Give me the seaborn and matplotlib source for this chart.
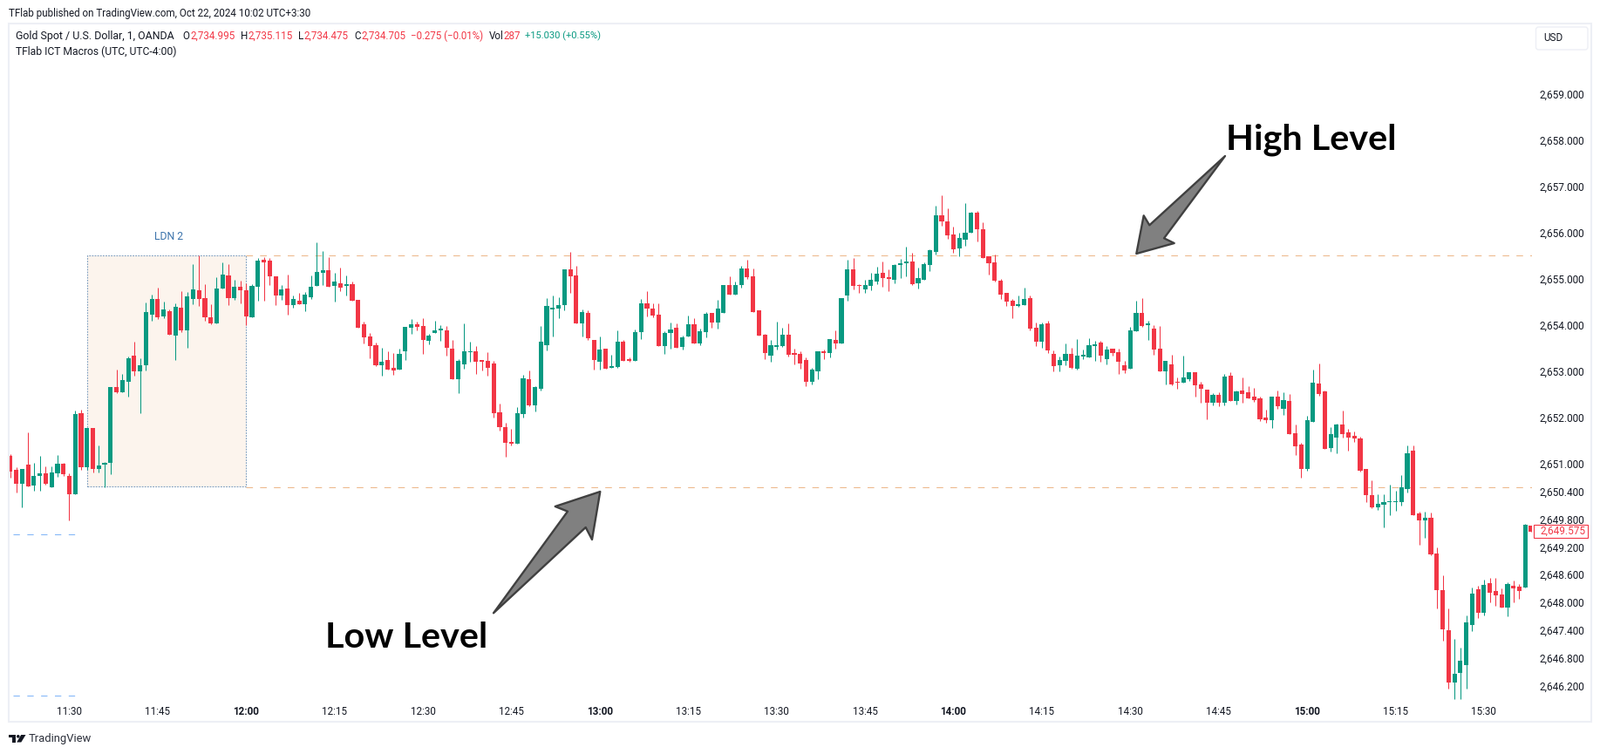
import numpy as np
import pandas as pd
import seaborn as sns
import matplotlib
matplotlib.use("Agg")
import matplotlib.pyplot as plt
from matplotlib.patches import Polygon, Rectangle, FancyBboxPatch, Circle
from matplotlib.ticker import FuncFormatter
from matplotlib.transforms import Affine2D

# ---------- data ----------
first_minute = 680   # 11:20, one candle per minute
opens = [
2651.17,2650.87,2650.57,2650.98,2650.53,2650.74,2650.79,2650.49,2650.79,2651.00,
2650.74,2650.34,2652.09,2650.92,2651.77,2650.89,2650.98,2651.02,2652.66,2652.55,
2652.77,2653.34,2653.00,2653.13,2654.22,2654.56,2654.19,2654.30,2653.77,2654.38,
2653.89,2654.56,2654.75,2654.58,2654.17,2654.04,2654.79,2655.07,2654.58,2654.83,
2654.75,2654.17,2654.83,2655.41,2655.39,2655.05,2654.64,2654.79,2654.43,2654.53,
2654.45,2654.60,2654.85,2655.13,2655.19,2654.85,2654.90,2654.85,2654.88,2654.54,
2654.02,2653.75,2653.56,2653.13,2653.24,2653.07,2653.04,2653.43,2653.94,2654.02,
2653.98,2653.66,2653.83,2653.89,2653.89,2653.49,2652.83,2653.15,2653.41,2653.43,
2653.23,2653.23,2653.17,2652.11,2651.79,2651.47,2651.43,2652.08,2652.83,2652.26,
2652.62,2653.56,2654.34,2654.36,2654.43,2655.20,2655.07,2654.04,2654.26,2653.68,
2653.21,2653.49,2653.07,2653.09,2653.64,2653.26,2653.23,2653.85,2654.47,2654.36,
2654.22,2653.55,2653.83,2653.94,2653.53,2653.75,2654.02,2653.60,2653.85,2654.26,
2654.05,2654.26,2654.87,2654.66,2654.87,2655.22,2655.05,2654.32,2653.79,2653.34,
2653.53,2653.55,2653.79,2653.40,2653.38,2653.24,2652.77,2653.00,2653.43,2653.39,
2653.67,2653.60,2654.64,2655.20,2654.86,2654.77,2654.84,2654.94,2655.13,2655.03,
2654.98,2655.30,2655.34,2655.37,2654.90,2654.98,2655.30,2655.58,2656.37,2656.24,
2655.96,2655.66,2655.84,2656.00,2656.43,2656.07,2655.49,2655.35,2654.96,2654.69,
2654.52,2654.41,2654.43,2654.58,2653.94,2653.64,2654.03,2653.37,2653.13,2653.22,
2653.37,2653.05,2653.32,2653.30,2653.55,2653.62,2653.26,2653.49,2653.41,2653.13,
2653.05,2653.87,2654.26,2654.00,2653.92,2653.49,2653.00,2653.15,2652.77,2652.75,
2652.83,2652.98,2652.71,2652.60,2652.32,2652.49,2652.32,2652.90,2652.36,2652.58,
2652.55,2652.45,2652.41,2652.00,2651.94,2652.45,2652.19,2652.36,2651.66,2651.41,
2650.89,2651.90,2652.73,2652.56,2651.34,2651.56,2651.85,2651.68,2651.60,2651.55,
2650.89,2650.32,2650.06,2650.11,2650.17,2650.16,2650.17,2650.46,2651.28,2649.93,
2649.78,2649.83,2649.06,2648.27,2647.40,2646.27,2646.47,2646.64,2647.51,2648.29,
2647.78,2648.42,2648.25,2648.17,2647.89,2648.36,2648.34,2648.32,2649.66]
closes = [
2650.83,2650.57,2650.89,2650.51,2650.74,2650.79,2650.57,2650.81,2651.00,2650.77,
2650.34,2652.08,2650.92,2651.77,2650.89,2650.96,2651.02,2652.66,2652.55,2652.81,
2653.28,2653.00,2653.13,2654.28,2654.56,2654.17,2654.34,2653.79,2654.39,2653.89,
2654.62,2654.77,2654.56,2654.17,2654.04,2654.79,2655.09,2654.58,2654.83,2654.75,
2654.19,2654.85,2655.39,2655.36,2655.05,2654.64,2654.77,2654.43,2654.56,2654.45,
2654.66,2654.83,2655.15,2655.19,2654.83,2654.94,2654.81,2654.88,2654.53,2653.94,
2653.73,2653.55,2653.13,2653.21,2653.04,2653.02,2653.38,2653.96,2654.02,2653.96,
2653.68,2653.77,2653.89,2653.90,2653.51,2652.83,2653.23,2653.43,2653.43,2653.21,
2653.21,2653.07,2652.09,2651.79,2651.45,2651.43,2652.09,2652.85,2652.26,2652.66,
2653.64,2654.41,2654.36,2654.43,2655.20,2655.05,2654.04,2654.28,2653.72,2653.24,
2653.47,2653.06,2653.11,2653.64,2653.23,2653.23,2653.85,2654.47,2654.36,2654.21,
2653.55,2653.83,2653.90,2653.51,2653.73,2654.02,2653.60,2653.87,2654.24,2654.05,
2654.36,2654.87,2654.66,2654.87,2655.22,2655.03,2654.28,2653.77,2653.40,2653.56,
2653.55,2653.79,2653.36,2653.36,2653.17,2652.77,2653.03,2653.43,2653.39,2653.69,
2653.60,2654.58,2655.20,2654.84,2654.84,2654.86,2654.98,2655.11,2655.02,2655.00,
2655.30,2655.34,2655.37,2654.88,2655.02,2655.32,2655.62,2656.37,2656.24,2655.94,
2655.64,2655.88,2656.00,2656.43,2656.07,2655.45,2655.34,2654.96,2654.66,2654.51,
2654.41,2654.45,2654.56,2653.92,2653.64,2654.02,2653.45,2653.11,2653.24,2653.37,
2653.07,2653.34,2653.34,2653.56,2653.56,2653.34,2653.47,2653.39,2653.21,2653.02,
2653.88,2654.26,2653.98,2654.02,2653.47,2653.00,2653.22,2652.71,2652.75,2652.87,
2652.98,2652.70,2652.62,2652.32,2652.49,2652.32,2652.88,2652.36,2652.56,2652.51,
2652.41,2652.38,2651.96,2651.94,2652.45,2652.24,2652.38,2651.64,2651.38,2650.89,
2651.94,2652.75,2652.51,2651.32,2651.64,2651.85,2651.64,2651.56,2651.55,2650.85,
2650.32,2650.06,2650.13,2650.17,2650.19,2650.18,2650.49,2651.23,2649.89,2649.78,
2649.83,2649.04,2648.27,2647.42,2646.27,2646.45,2646.74,2647.57,2648.19,2647.78,
2648.38,2648.21,2648.15,2647.89,2648.40,2648.30,2648.25,2649.68,2649.53]
highs = [
2651.21,2650.92,2650.89,2651.68,2651.02,2651.17,2650.95,2650.95,2651.19,2651.02,
2650.79,2652.15,2652.17,2651.77,2651.77,2651.40,2651.04,2652.66,2653.04,2652.94,
2653.32,2653.64,2653.28,2654.49,2654.66,2654.81,2654.51,2654.34,2654.47,2654.73,
2654.71,2655.32,2655.50,2654.88,2654.45,2655.03,2655.36,2655.32,2654.98,2654.96,
2654.90,2654.88,2655.45,2655.47,2655.45,2655.05,2654.87,2655.09,2654.64,2654.70,
2654.71,2655.07,2655.79,2655.60,2655.47,2655.13,2655.24,2655.07,2654.94,2654.54,
2654.07,2653.83,2653.62,2653.51,2653.43,2653.40,2653.49,2653.96,2654.13,2654.07,
2654.15,2653.81,2654.09,2654.00,2653.98,2653.68,2653.26,2654.04,2653.64,2653.55,
2653.24,2653.41,2653.23,2652.30,2651.89,2651.76,2652.23,2652.92,2653.02,2652.68,
2653.98,2654.58,2654.64,2654.60,2655.20,2655.58,2655.28,2654.34,2654.32,2653.68,
2653.75,2653.49,2653.36,2653.89,2653.68,2653.30,2653.90,2654.56,2654.73,2654.47,
2654.47,2653.87,2654.05,2654.04,2653.77,2654.21,2654.15,2653.92,2654.28,2654.26,
2654.54,2654.87,2655.05,2654.94,2655.28,2655.41,2655.22,2654.32,2653.81,2653.68,
2654.07,2653.94,2654.04,2653.49,2653.43,2653.30,2653.07,2653.43,2653.47,2653.69,
2653.88,2654.58,2655.41,2655.45,2654.88,2654.98,2655.13,2655.26,2655.37,2655.20,
2655.32,2655.43,2655.69,2655.56,2655.24,2655.35,2655.64,2656.58,2656.81,2656.52,
2656.13,2656.00,2656.64,2656.45,2656.47,2656.22,2655.49,2655.52,2655.00,2654.69,
2654.56,2654.64,2654.81,2654.64,2654.05,2654.05,2654.09,2653.45,2653.32,2653.60,
2653.51,2653.69,2653.47,2653.71,2653.66,2653.66,2653.55,2653.49,2653.49,2653.22,
2653.96,2654.52,2654.58,2654.09,2654.00,2653.98,2653.22,2653.36,2652.87,2653.34,
2652.98,2652.98,2652.77,2652.60,2652.53,2652.55,2652.94,2652.98,2652.58,2652.87,
2652.68,2652.64,2652.45,2652.17,2652.45,2652.58,2652.55,2652.51,2651.85,2651.45,
2652.04,2653.03,2653.17,2652.58,2651.79,2651.87,2652.15,2651.75,2651.70,2651.58,
2650.89,2650.64,2650.34,2650.34,2650.55,2650.42,2650.76,2651.40,2651.40,2649.96,
2649.96,2649.95,2649.19,2648.59,2647.87,2647.21,2647.02,2647.72,2648.32,2648.36,
2648.49,2648.53,2648.53,2648.30,2648.43,2648.47,2648.40,2649.70,2649.66]
lows = [
2650.70,2650.38,2650.06,2650.51,2650.42,2650.42,2650.55,2650.49,2650.72,2650.74,
2649.78,2650.34,2650.87,2650.86,2650.81,2650.81,2650.49,2650.77,2652.53,2652.55,
2652.45,2652.90,2652.09,2653.02,2654.09,2654.13,2654.15,2653.79,2653.24,2653.85,
2653.51,2654.45,2654.41,2654.09,2654.02,2654.04,2654.79,2654.43,2654.54,2654.47,
2653.99,2654.17,2654.53,2654.53,2654.87,2654.43,2654.54,2654.22,2654.38,2654.45,
2654.30,2654.56,2654.85,2654.87,2654.83,2654.51,2654.73,2654.64,2654.53,2653.94,
2653.60,2653.28,2653.11,2652.90,2653.04,2652.92,2653.04,2653.24,2653.81,2653.89,
2653.38,2653.58,2653.83,2653.66,2653.34,2652.83,2652.53,2653.06,2653.21,2652.94,
2653.02,2652.90,2652.00,2651.72,2651.15,2651.40,2651.43,2652.00,2652.25,2652.13,
2652.58,2653.45,2653.75,2654.15,2654.32,2654.70,2654.04,2653.75,2653.68,2653.04,
2653.04,2653.06,2653.07,2653.07,2653.23,2653.21,2653.23,2653.70,2654.19,2654.17,
2653.55,2653.38,2653.49,2653.51,2653.47,2653.75,2653.60,2653.56,2653.73,2653.94,
2653.92,2654.26,2654.66,2654.66,2654.81,2655.00,2654.28,2653.77,2653.26,2653.21,
2653.47,2653.53,2653.32,2653.15,2653.06,2652.68,2652.71,2652.83,2653.26,2653.30,
2653.49,2653.60,2654.52,2654.77,2654.69,2654.69,2654.75,2654.88,2654.83,2654.73,
2654.90,2655.02,2655.05,2654.86,2654.79,2654.98,2655.17,2655.52,2656.15,2655.86,
2655.56,2655.49,2655.71,2656.00,2655.81,2655.45,2655.09,2654.94,2654.56,2654.41,
2654.15,2654.39,2654.43,2653.88,2653.55,2653.51,2653.39,2653.00,2653.00,2653.13,
2653.05,2653.03,2653.26,2653.30,2653.22,2653.21,2653.15,2653.34,2652.94,2652.96,
2653.05,2653.87,2653.96,2653.67,2653.36,2653.00,2652.71,2652.70,2652.62,2652.75,
2652.79,2652.45,2652.32,2651.96,2652.26,2652.24,2652.26,2652.36,2652.28,2652.32,
2652.41,2652.34,2651.92,2651.89,2651.77,2652.19,2652.05,2651.64,2651.19,2650.70,
2650.85,2651.90,2652.47,2651.32,2651.26,2651.22,2651.56,2651.28,2651.47,2650.83,
2650.17,2650.04,2650.00,2649.63,2649.89,2649.98,2650.10,2650.38,2649.89,2649.25,
2649.40,2649.02,2647.87,2647.17,2646.14,2645.91,2645.91,2646.14,2647.38,2647.66,
2647.72,2648.00,2647.93,2647.89,2647.70,2648.00,2648.08,2648.32,2649.53]

time_ticks = [690, 705, 720, 735, 750, 765, 780, 795, 810, 825, 840, 855, 870, 885, 900, 915, 930]
time_labels = ["11:30", "11:45", "12:00", "12:15", "12:30", "12:45", "13:00", "13:15", "13:30",
               "13:45", "14:00", "14:15", "14:30", "14:45", "15:00", "15:15", "15:30"]
bold_labels = {"12:00", "13:00", "14:00", "15:00"}
price_ticks = [2659, 2658, 2657, 2656, 2655, 2654, 2653, 2652, 2651, 2650.4, 2649.8, 2649.2,
               2648.6, 2648, 2647.4, 2646.8, 2646.2]
high_level = 2655.50
low_level = 2650.48
session_start, session_end = 693, 720
blue_levels = [2649.47, 2645.99]
last_price = 2649.575

# ---------- layout / style ----------
W, H = 1835, 865
GREEN, RED = "#089981", "#F23645"
INK = "#131722"
FONT = "Roboto"

sns.set_theme(style="white", rc={"font.family": FONT, "axes.facecolor": "none"})
fig = plt.figure(figsize=(W / 100, H / 100), dpi=100, facecolor="white")
L, R, T, B = 11, 1757, 28, 805
ax = fig.add_axes([L / W, 1 - B / H, (R - L) / W, (B - T) / H])

px = Affine2D().scale(1 / W, -1 / H).translate(0, 1) + fig.transFigure

df = pd.DataFrame({"minute": first_minute + np.arange(len(opens)),
                   "open": opens, "close": closes, "high": highs, "low": lows})
df["rising"] = df["close"] >= df["open"]
df["bottom"] = df[["open", "close"]].min(axis=1)
df["body"] = (df["close"] - df["open"]).abs().clip(lower=0.025)

# session box
ax.add_patch(Rectangle((session_start, low_level + 0.02), session_end - session_start,
                       high_level - low_level - 0.02, facecolor="#FCF4ED", edgecolor="#7F9FC0",
                       linewidth=0.8, linestyle=(0, (1.6, 1.2)), zorder=1))
ax.text(706.9, high_level + 0.41, "LDN 2", color="#3B73AB", fontsize=8.8, ha="center", va="center")

# levels
for lvl in (high_level, low_level):
    line, = ax.plot([session_end, 938.2], [lvl, lvl], color="#EDB88B", lw=0.75, ls=(0, (7.3, 7.9)), zorder=1.5)
    line.set_snap(True)
for lvl in blue_levels:
    line, = ax.plot([680.46, 691.95], [lvl, lvl], color="#82B6F8", lw=0.75, ls=(0, (7.0, 8.2)), zorder=1.5)
    line.set_snap(True)

# candles
wicks = ax.vlines(df["minute"], df["low"], df["high"], colors=np.where(df["rising"], GREEN, RED),
                  linewidth=0.74, zorder=2)
wicks.set_snap(True)
for rising, color in ((True, GREEN), (False, RED)):
    part = df[df["rising"] == rising]
    sns.barplot(data=part, x="minute", y="body", bottom=part["bottom"].to_numpy(), native_scale=True,
                width=0.76, color=color, saturation=1, errorbar=None, linewidth=0, ax=ax, zorder=3)

ax.set_xlim(679.87, 938.15)
ax.set_ylim(2659 - (B - 107.5) / 53.05, 2659 + (107.5 - T) / 53.05)
ax.set_xlabel("")
ax.set_ylabel("")
ax.grid(False)
sns.despine(ax=ax, left=True, bottom=True, right=True, top=True)

ax.set_xticks(time_ticks)
ax.set_xticklabels(time_labels)
ax.tick_params(axis="x", length=0, pad=3.4, labelsize=8.4, labelcolor=INK)
for lab in ax.get_xticklabels():
    if lab.get_text() in bold_labels:
        lab.set_fontweight("bold")
ax.yaxis.tick_right()
ax.set_yticks(price_ticks)
ax.yaxis.set_major_formatter(FuncFormatter(lambda v, _: f"{v:,.3f}"))
ax.tick_params(axis="y", length=0, pad=6.4, labelsize=8.5, labelcolor=INK)

# annotation arrows
arrow_high = [(1303.3, 291), (1311.7, 247.3), (1318.3, 258.3), (1405, 179), (1335, 273.3), (1346.7, 279)]
arrow_low = [(688.3, 564), (636.7, 581), (651, 586.7), (566, 703.3), (671.7, 605), (679, 619)]
for pts in (arrow_high, arrow_low):
    fig.add_artist(Polygon(pts, closed=True, transform=px, facecolor="#808080", edgecolor="#404040",
                           linewidth=1.7, joinstyle="round", zorder=6))


def ftext(x, y, s, **kw):
    kw.setdefault("fontsize", 8.4)
    kw.setdefault("color", INK)
    kw.setdefault("va", "center")
    kw.setdefault("ha", "left")
    return fig.text(x / W, 1 - y / H, s, **kw)


ftext(1406, 171.7, "High Level", fontsize=29.8, fontweight="bold", color="black", family="Lato", va="baseline", zorder=7)
ftext(373, 742.7, "Low Level", fontsize=29.8, fontweight="bold", color="black", family="Lato", va="baseline", zorder=7)

# frame
fig.add_artist(Rectangle((10, 27), 1815, 801, transform=px, fill=False, edgecolor="#EDEFF5", linewidth=1.5, zorder=4))

# header + legend
ftext(10, 15, "TFlab published on TradingView.com, Oct 22, 2024 10:02 UTC+3:30")
ftext(18, 41.5, "Gold Spot / U.S. Dollar, 1, OANDA", fontsize=8.95)
ftext(18, 59, "TFlab ICT Macros (UTC, UTC-4:00)", fontsize=8.7)
for x, s, c, size in [(209, "O", INK, 8.4), (218, "2,734.995", RED, 8.4), (276, "H", INK, 8.4), (284, "2,735.115", RED, 8.4),
                      (341.5, "L", INK, 8.4), (348, "2,734.475", RED, 8.4), (406, "C", INK, 8.4), (414, "2,734.705", RED, 8.4),
                      (471, "\u22120.275 (\u22120.01%)", RED, 8.3), (561, "Vol", INK, 8.4), (577, "287", RED, 8.4),
                      (602, "+15.030 (+0.55%)", GREEN, 8.05)]:
    ftext(x, 41.5, s, color=c, fontsize=size)

# USD button
fig.add_artist(FancyBboxPatch((1761.5, 31), 59.5, 26, boxstyle="round,pad=0,rounding_size=3", mutation_scale=1,
                              transform=px, facecolor="white", edgecolor="#EDEFF5", linewidth=1.0, zorder=5))
ftext(1770, 43.7, "USD", fontsize=8.4, zorder=6)

# last price tag
fig.add_artist(Rectangle((1758.5, 602), 62, 15.3, transform=px, facecolor="white", edgecolor=RED, linewidth=0.8, zorder=5))
ftext(1766, 609.3, f"{last_price:,.3f}", color=RED, fontsize=8.5, zorder=6)

# footer logo
fig.add_artist(Polygon([(10, 843), (18, 843), (18, 851.5), (14, 851.5), (14, 846.2), (10, 846.2)], transform=px,
                       facecolor=INK, edgecolor="none", zorder=6))
fig.add_artist(Circle((20.8, 844.8), 1.8, transform=px, facecolor=INK, edgecolor="none", zorder=6))
fig.add_artist(Polygon([(24.2, 843), (29.5, 843), (24.3, 851.5), (19.2, 851.5)], transform=px,
                       facecolor=INK, edgecolor="none", zorder=6))
ftext(33, 847.5, "TradingView", fontsize=9.4, color="#2A2E39")

fig.savefig("out.png", dpi=100)
